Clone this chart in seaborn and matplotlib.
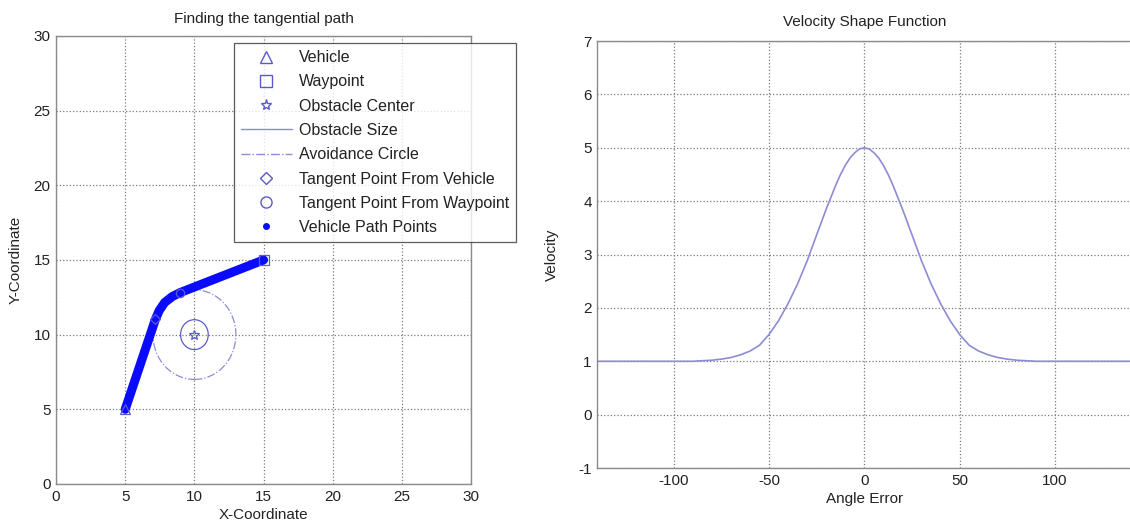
import matplotlib
matplotlib.use("Agg")
import matplotlib.pyplot as plt
from matplotlib.lines import Line2D
from matplotlib.patches import Circle
import pandas as pd
import seaborn as sns

sns.set_theme(style="whitegrid")
plt.rcParams["font.family"] = ["Liberation Sans", "DejaVu Sans"]
plt.rcParams["axes.unicode_minus"] = False

# ── Data: left panel (tangential path) ─────────────────────────────────────────
vehicle = (5, 5)
waypoint = (15, 15)
obstacle_center = (10, 10)
obstacle_radius = 1.0
avoid_radius = 3.0
tangent_from_vehicle = (7.18, 11.02)
tangent_from_waypoint = (8.98, 12.82)

path_x = [5.0, 7.18, 7.45, 7.85, 8.40, 8.98, 15.0]
path_y = [5.0, 11.02, 11.60, 12.15, 12.55, 12.82, 15.0]

# ── Data: right panel (velocity shape) ─────────────────────────────────────────
angle_err = [-140, -90, -85, -80, -75, -70, -65, -60, -55, -50, -45, -40, -35,
             -30, -25, -20, -15, -12.5, -10, -7.5, -5, -2.5, 0, 2.5, 5, 7.5,
             10, 12.5, 15, 20, 25, 30, 35, 40, 45, 50, 55, 60, 65, 70, 75,
             80, 85, 90, 140]
velocity = [1.0, 1.0, 1.01, 1.02, 1.04, 1.07, 1.12, 1.19, 1.30, 1.50, 1.76,
            2.08, 2.45, 2.88, 3.37, 3.85, 4.30, 4.50, 4.67, 4.81, 4.91, 4.98,
            5.0, 4.98, 4.91, 4.81, 4.67, 4.50, 4.30, 3.85, 3.37, 2.88, 2.45,
            2.08, 1.76, 1.50, 1.30, 1.19, 1.12, 1.07, 1.04, 1.02, 1.01, 1.0,
            1.0]

MARK = "#5a5acc"
LINE = "#8c8cd4"
FS = 11


def style_axes(ax):
    ax.set_facecolor("white")
    ax.grid(True, linestyle=":", color="#7a7a7a", linewidth=0.9)
    for s in ax.spines.values():
        s.set_color("#8a8a8a")
        s.set_linewidth(1.0)
    ax.tick_params(direction="in", length=3, color="#8a8a8a",
                   labelsize=FS, labelcolor="#222222", pad=4)


fig = plt.figure(figsize=(11.3, 5.29), dpi=100)
fig.patch.set_facecolor("white")

# ── Left panel ─────────────────────────────────────────────────────────────────
ax1 = fig.add_axes([0.0496, 0.0851, 0.3673, 0.847])
style_axes(ax1)

ax1.add_patch(Circle(obstacle_center, obstacle_radius, fill=False,
                     edgecolor=MARK, linewidth=0.9))
ax1.add_patch(Circle(obstacle_center, avoid_radius, fill=False,
                     edgecolor=LINE, linewidth=0.9, linestyle="-."))

path_df = pd.DataFrame({"x": path_x, "y": path_y})
sns.lineplot(data=path_df, x="x", y="y", sort=False, estimator=None,
             color="#0a0aff", linewidth=6.5, ax=ax1, solid_capstyle="round")

pts = pd.DataFrame({
    "x": [vehicle[0], waypoint[0], obstacle_center[0],
          tangent_from_vehicle[0], tangent_from_waypoint[0]],
    "y": [vehicle[1], waypoint[1], obstacle_center[1],
          tangent_from_vehicle[1], tangent_from_waypoint[1]],
    "m": ["^", "s", "*", "D", "o"],
    "s": [7, 7, 7, 5, 6],
})
for _, r in pts.iterrows():
    ax1.plot(r["x"], r["y"], marker=r["m"], markersize=r["s"],
             markerfacecolor="none", markeredgecolor=MARK,
             markeredgewidth=0.9, linestyle="none")

ax1.set_xlim(0, 30)
ax1.set_ylim(0, 30)
ax1.set_xticks(range(0, 31, 5))
ax1.set_yticks(range(0, 31, 5))
ax1.set_title("Finding the tangential path", fontsize=FS, pad=9, color="#222222")
ax1.set_xlabel("X-Coordinate", fontsize=FS, labelpad=3, color="#222222")
ax1.set_ylabel("Y-Coordinate", fontsize=FS, labelpad=8, color="#222222")

handles = [
    Line2D([], [], marker="^", linestyle="none", markerfacecolor="none",
           markeredgecolor=MARK, markersize=8),
    Line2D([], [], marker="s", linestyle="none", markerfacecolor="none",
           markeredgecolor=MARK, markersize=8),
    Line2D([], [], marker="*", linestyle="none", markerfacecolor="none",
           markeredgecolor=MARK, markersize=8),
    Line2D([], [], color=LINE, linewidth=1.0),
    Line2D([], [], color=LINE, linewidth=1.0, linestyle="-."),
    Line2D([], [], marker="D", linestyle="none", markerfacecolor="none",
           markeredgecolor=MARK, markersize=6),
    Line2D([], [], marker="o", linestyle="none", markerfacecolor="none",
           markeredgecolor=MARK, markersize=8),
    Line2D([], [], marker=".", linestyle="none", color="#0a0aff", markersize=8),
]
labels = ["Vehicle", "Waypoint", "Obstacle Center", "Obstacle Size",
          "Avoidance Circle", "Tangent Point From Vehicle",
          "Tangent Point From Waypoint", "Vehicle Path Points"]
leg = fig.legend(handles, labels, loc="upper left",
                 bbox_to_anchor=(234 / 1130, 1 - 43 / 529),
                 fontsize=11.5, frameon=True, fancybox=False,
                 handlelength=3.15, handletextpad=0.45, labelspacing=0.58,
                 borderpad=0.45, borderaxespad=0)
leg.get_frame().set_edgecolor("#333333")
leg.get_frame().set_linewidth(0.9)
for t in leg.get_texts():
    t.set_color("#222222")

# ── Right panel ────────────────────────────────────────────────────────────────
ax2 = fig.add_axes([0.5286, 0.1153, 0.4726, 0.807])
style_axes(ax2)
vel_df = pd.DataFrame({"angle": angle_err, "vel": velocity})
sns.lineplot(data=vel_df, x="angle", y="vel", color=LINE, linewidth=1.2, ax=ax2)
ax2.set_xlim(-140, 140)
ax2.set_ylim(-1, 7)
ax2.set_xticks([-100, -50, 0, 50, 100])
ax2.set_yticks(range(-1, 8))
ax2.set_title("Velocity Shape Function", fontsize=FS, pad=11, color="#222222")
ax2.set_xlabel("Angle Error", fontsize=FS, labelpad=3, color="#222222")
ax2.set_ylabel("Velocity", fontsize=FS, labelpad=14, color="#222222")

fig.savefig("out.png", dpi=100, facecolor="white")
